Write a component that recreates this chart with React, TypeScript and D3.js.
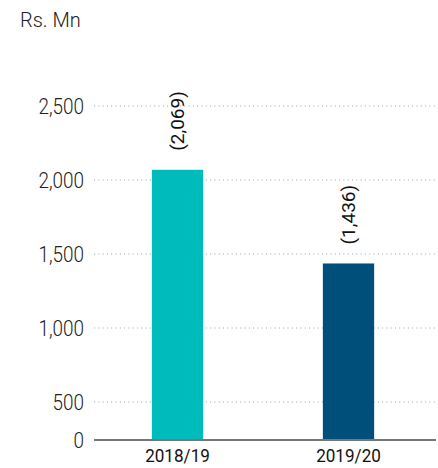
import React, { useEffect, useRef } from 'react';
import * as d3 from 'd3';

const years = ['2018/19', '2019/20'];
const values = [2069, 1436];
const valueLabels = ['(2,069)', '(1,436)'];
const barColors = ['#00BBBB', '#004E7A'];
const tickValues = [0, 500, 1000, 1500, 2000, 2500];

const App: React.FC = () => {
  const svgRef = useRef<SVGSVGElement>(null);

  useEffect(() => {
    if (!svgRef.current) return;
    const svg = d3.select(svgRef.current);
    svg.selectAll('*').remove();

    const font = 'Roboto, sans-serif';

    // axis is broken between 0 and 500
    const y = d3.scaleLinear().domain([0, 500, 2500]).range([440, 402, 106]);
    const x = d3.scaleBand<string>().domain(years).range([92, 434])
      .paddingInner(0.7).paddingOuter(0.35);

    svg.append('text')
      .attr('x', 20)
      .attr('y', 27)
      .style('font-family', font)
      .style('font-size', '20px')
      .style('font-weight', 300)
      .style('fill', '#222')
      .text('Rs. Mn');

    // Gridlines
    svg.selectAll('.grid')
      .data(tickValues.filter(t => t > 0))
      .enter().append('line')
      .attr('x1', 94)
      .attr('x2', 438)
      .attr('y1', d => y(d))
      .attr('y2', d => y(d))
      .attr('stroke', '#8aa6b8')
      .attr('stroke-width', 1)
      .attr('stroke-dasharray', '1,3.3');

    // Tick labels (slightly condensed)
    svg.selectAll('.tick')
      .data(tickValues)
      .enter().append('text')
      .attr('transform', d => `translate(84,${y(d)}) scale(0.86,1)`)
      .attr('dy', '0.36em')
      .attr('text-anchor', 'end')
      .style('font-family', font)
      .style('font-size', '22px')
      .style('font-weight', 300)
      .style('fill', '#222')
      .text(d => d3.format(',')(d));

    // Bars
    svg.selectAll('.bar')
      .data(values)
      .enter().append('rect')
      .attr('x', (_, i) => x(years[i])!)
      .attr('y', d => y(d))
      .attr('width', x.bandwidth())
      .attr('height', d => y(0) - y(d))
      .attr('fill', (_, i) => barColors[i]);

    // Value labels
    svg.selectAll('.vlabel')
      .data(values)
      .enter().append('text')
      .attr('transform', (d, i) => `translate(${x(years[i])! + x.bandwidth() / 2},${y(d) - 19}) rotate(-90)`)
      .attr('dy', '0.35em')
      .attr('text-anchor', 'start')
      .style('font-family', font)
      .style('font-size', '19px')
      .style('fill', '#111')
      .text((_, i) => valueLabels[i]);

    // Baseline
    svg.append('line')
      .attr('x1', 94)
      .attr('x2', 436)
      .attr('y1', y(0))
      .attr('y2', y(0))
      .attr('stroke', '#777')
      .attr('stroke-width', 2);

    // Category labels
    svg.selectAll('.cat')
      .data(years)
      .enter().append('text')
      .attr('transform', d => `translate(${x(d)! + x.bandwidth() / 2},462) scale(0.95,1)`)
      .attr('text-anchor', 'middle')
      .style('font-family', font)
      .style('font-size', '18px')
      .style('fill', '#111')
      .text(d => d);
  }, []);

  return (
    <svg ref={svgRef} width={438} height={468} viewBox="0 0 438 468"
      style={{ position: 'absolute', left: 0, top: 0, background: '#fff' }} />
  );
};

export default App;
